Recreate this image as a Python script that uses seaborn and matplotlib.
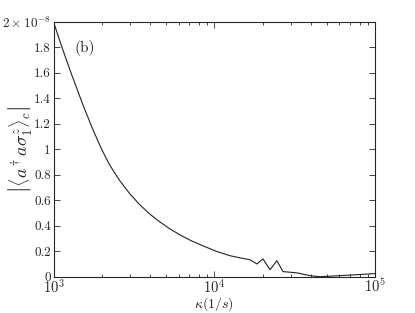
import numpy as np
import pandas as pd
import matplotlib
matplotlib.use('Agg')
import matplotlib.pyplot as plt
import seaborn as sns

# kappa (1/s) given as log10, correlator in units of 1e-8
log_kappa = [3.0, 3.05, 3.1, 3.181, 3.243, 3.299, 3.35, 3.411, 3.475, 3.536,
             3.6, 3.66, 3.72, 3.785, 3.855, 3.928, 4.01, 4.097, 4.16, 4.221,
             4.265, 4.302, 4.346, 4.389, 4.427, 4.514, 4.595, 4.657, 4.78, 5.0]
corr = [2.0, 1.81, 1.63, 1.355, 1.16, 1.0, 0.875, 0.755, 0.65, 0.565,
        0.49, 0.431, 0.378, 0.329, 0.283, 0.243, 0.20, 0.165, 0.148, 0.133,
        0.10, 0.14, 0.055, 0.125, 0.04, 0.03, 0.008, 0.0, 0.008, 0.024]
yticks = [0, 0.2, 0.4, 0.6, 0.8, 1.0, 1.2, 1.4, 1.6, 1.8, 2.0]
ytick_labels = ['0', '0.2', '0.4', '0.6', '0.8', '1', '1.2', '1.4', '1.6', '1.8',
                r'$2\times10^{-8}$']
xticks = [1e3, 1e4, 1e5]
xtick_labels = [r'$10^3$', r'$10^4$', r'$10^5$']

df = pd.DataFrame({'kappa': 10 ** np.array(log_kappa), 'corr': corr})

sns.set_style('ticks')
plt.rcParams['font.family'] = 'serif'
plt.rcParams['font.serif'] = ['cmr10', 'DejaVu Serif']
plt.rcParams['mathtext.fontset'] = 'cm'
plt.rcParams['axes.unicode_minus'] = False

fig = plt.figure(figsize=(4.15, 3.13), dpi=100)
ax = fig.add_axes([0.129, 0.116, 0.775, 0.814])
sns.lineplot(data=df, x='kappa', y='corr', ax=ax, color='#222222', linewidth=0.8)
ax.set_xscale('log')
ax.set_xlim(1e3, 1e5)
ax.set_ylim(0, 2.0)
ax.set_xticks(xticks)
ax.set_xticklabels(xtick_labels, fontsize=10.5)
ax.set_yticks(yticks)
ax.set_yticklabels(ytick_labels, fontsize=9.5)
ax.tick_params(which='both', direction='in', top=True, right=True, width=0.6)
ax.tick_params(which='major', length=4)
ax.tick_params(axis='y', pad=2)
ax.tick_params(axis='x', pad=1)
ax.tick_params(which='minor', length=2)
for s in ax.spines.values():
    s.set_linewidth(0.8)
ax.set_xlabel(r'$\kappa(1/s)$', fontsize=10)
ax.xaxis.set_label_coords(0.5, -0.073)
ax.set_ylabel(r'$\left|\langle a^\dagger a\sigma_1^z\rangle_c\right|$', fontsize=13)
ax.yaxis.set_label_coords(-0.105, 0.5)
ax.yaxis.label.set_va('center')
ax.text(0.065, 0.93, '(b)', transform=ax.transAxes, fontsize=11, va='top')

fig.savefig('out.png', dpi=100)
